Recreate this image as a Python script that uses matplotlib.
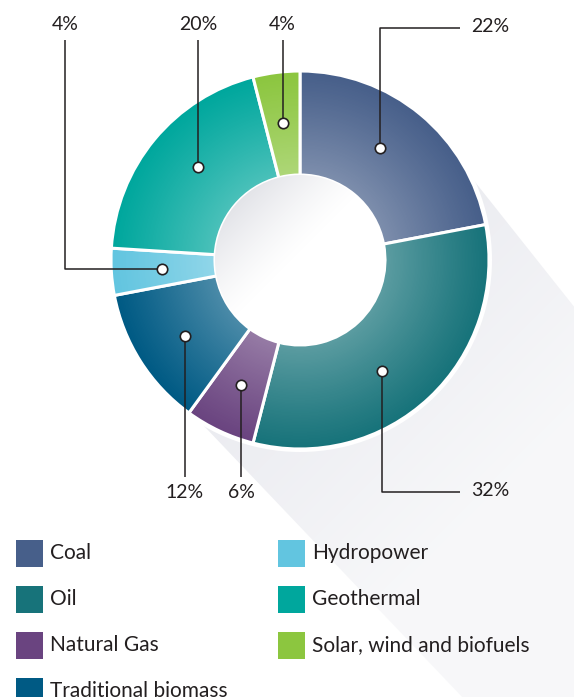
import matplotlib.pyplot as plt
import numpy as np
from matplotlib.colors import to_rgb
from matplotlib.patches import Circle, Polygon, Rectangle

# Dati
labels = ['Coal', 'Oil', 'Natural Gas', 'Traditional biomass',
          'Hydropower', 'Geothermal', 'Solar, wind and biofuels']
shares = [22, 32, 6, 12, 4, 20, 4]
colors = ['#475f8a', '#17737a', '#6a4480', '#005a84',
          '#62c5e0', '#00a79d', '#8cc63f']

# Layout (pixel dell'immagine, y verso il basso)
W, H = 574, 697
CX, CY = 300, 260
R_OUT, R_IN = 189, 85
R_DOT = 138
TXT = '#231f20'
angle_shift = [-4, 7, 0, -1, 0, 3, 0]

plt.rcParams['font.family'] = ['Lato', 'DejaVu Sans']

fig = plt.figure(figsize=(W / 100, H / 100), dpi=100)
ax = fig.add_axes([0, 0, 1, 1])

yy, xx = np.mgrid[0:H, 0:W] + 0.5
dx, dy = xx - CX, yy - CY
rr = np.hypot(dx, dy)

# ombra lunga verso il basso a destra
along = (dx + dy) / np.sqrt(2)
sh = np.zeros((H, W, 4))
sh[..., :3] = to_rgb('#e6e7ed')
sh[..., 3] = np.clip(0.9 - along / 520, 0.3, 0.9)
shadow = Polygon([(CX, CY), (460, 163), (1200, 1095), (1200, 1472), (185, 406)],
                 closed=True, facecolor='none', edgecolor='none')
ax.add_patch(shadow)
im = ax.imshow(sh, extent=(0, W, H, 0), zorder=1, interpolation='bilinear')
im.set_clip_path(shadow)

ax.add_patch(Circle((CX, CY), R_OUT + 3, facecolor='white', edgecolor='none', zorder=2))

# ciambella
wedges, _ = ax.pie(shares, colors=colors, startangle=-90, counterclock=True,
                   center=(CX, CY), radius=R_OUT, frame=True,
                   wedgeprops=dict(width=R_OUT - R_IN, edgecolor='white', linewidth=2.2))
for w in wedges:
    w.set_zorder(3)

# sfumatura radiale chiara verso il centro
lum = np.zeros((H, W, 4))
lum[..., :3] = 1.0
lum[..., 3] = 0.30 * np.clip((R_OUT - rr) / (R_OUT - R_IN), 0, 1) ** 1.1
outer = Circle((CX, CY), R_OUT + 1, facecolor='none', edgecolor='none')
ax.add_patch(outer)
im2 = ax.imshow(lum, extent=(0, W, H, 0), zorder=4, interpolation='bilinear')
im2.set_clip_path(outer)

# foro centrale con leggera ombra interna
hole = Circle((CX, CY), R_IN, facecolor='white', edgecolor='none', zorder=5)
ax.add_patch(hole)
t = (dx + dy) / np.sqrt(2) / R_IN
hg = np.zeros((H, W, 4))
hg[..., :3] = to_rgb('#c8cad3')
hg[..., 3] = 0.55 * np.clip(-t - 0.05, 0, 1) ** 1.3
im3 = ax.imshow(hg, extent=(0, W, H, 0), zorder=6, interpolation='bilinear')
im3.set_clip_path(hole)

# etichette con linee guida
cum = np.cumsum([0] + shares[:-1])
dots = []
for i, s in enumerate(shares):
    ang = np.deg2rad(-90 + 3.6 * (cum[i] + s / 2) + angle_shift[i])
    dots.append((CX + R_DOT * np.cos(ang), CY + R_DOT * np.sin(ang)))

line_kw = dict(color=TXT, lw=1.1, zorder=7, solid_capstyle='butt')
txt_kw = dict(fontsize=14, color=TXT, va='center', zorder=8)

for i, (x, y) in enumerate(dots):
    lab = f'{shares[i]}%'
    name = labels[i]
    if name in ('Coal', 'Oil'):
        yl = 28 if name == 'Coal' else 492
        ax.plot([x, x, 460], [y, yl, yl], **line_kw)
        ax.text(471, yl - 1, lab, ha='left', **txt_kw)
    elif name == 'Hydropower':
        ax.plot([x, 65, 65], [y, y, 40], **line_kw)
        ax.text(65, 25, lab, ha='center', **txt_kw)
    elif name in ('Natural Gas', 'Traditional biomass'):
        ax.plot([x, x], [y, 477], **line_kw)
        ax.text(x, 492, lab, ha='center', **txt_kw)
    else:
        ax.plot([x, x], [y, 40], **line_kw)
        ax.text(x, 25, lab, ha='center', **txt_kw)
    ax.plot(x, y, 'o', ms=7.5, mfc='white', mec=TXT, mew=1.2, zorder=9)

# legenda
rows = [553, 599, 645, 691]
for i, name in enumerate(labels):
    col, row = divmod(i, 4)
    x0 = 16 if col == 0 else 278
    yc = rows[row]
    ax.add_patch(Rectangle((x0, yc - 13.5), 27, 27, facecolor=colors[i],
                           edgecolor='none', zorder=8))
    ax.text(x0 + 34, yc, name, fontsize=15, color=TXT, ha='left', va='center', zorder=8)

ax.set_xlim(0, W)
ax.set_ylim(H, 0)
ax.set_aspect('auto')
ax.axis('off')

fig.savefig('out.png', dpi=100, facecolor='white')
